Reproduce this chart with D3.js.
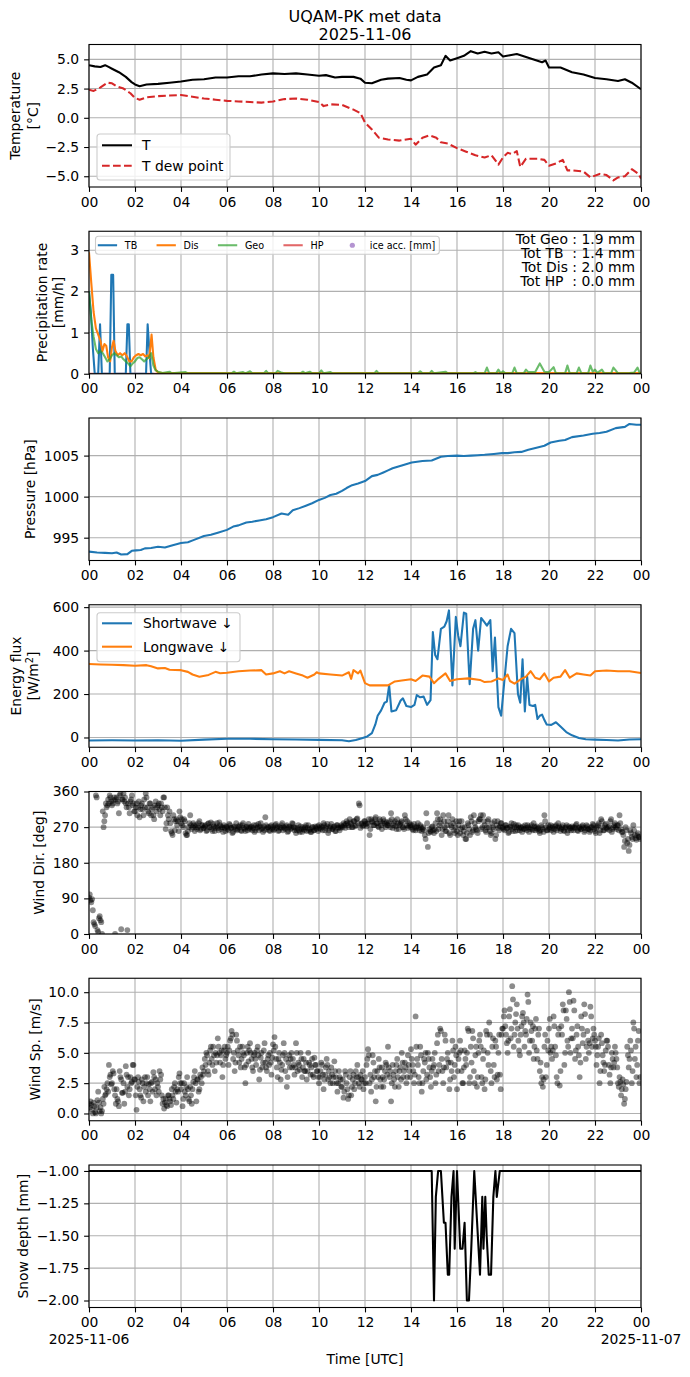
<!DOCTYPE html>
<html>
<head>
<meta charset="utf-8">
<script src="https://cdn.jsdelivr.net/npm/d3@7"></script>
<style>
  body { margin: 0; background: #fff; }
  svg { display: block; font-family: "DejaVu Sans", sans-serif; }
  .pre { white-space: pre; }
</style>
</head>
<body>
<svg id="chart" width="690" height="1377"></svg>
<script>
// ---- data (hours since 2025-11-06 00 UTC) ----
const hourTicks = [0, 2, 4, 6, 8, 10, 12, 14, 16, 18, 20, 22, 24];
const hourLabels = ['00', '02', '04', '06', '08', '10', '12', '14', '16', '18', '20', '22', '00'];

const tempT = [[0,4.5],[0.25,4.4],[0.5,4.35],[0.7,4.5],[0.85,4.35],[1.0,4.2],[1.3,3.9],[1.6,3.5],[1.85,3.05],[2.0,2.85],[2.2,2.7],[2.5,2.85],[3.0,2.9],[3.5,3.0],[4.0,3.1],[4.5,3.25],[5.0,3.3],[5.5,3.45],[6.0,3.45],[6.5,3.55],[7.0,3.55],[7.5,3.7],[8.0,3.8],[8.5,3.75],[9.0,3.8],[9.5,3.7],[10.0,3.6],[10.3,3.65],[10.7,3.45],[11.0,3.5],[11.5,3.5],[11.8,3.35],[12.0,3.0],[12.3,2.95],[12.7,3.25],[13.0,3.35],[13.5,3.4],[13.8,3.25],[14.0,3.2],[14.3,3.5],[14.7,3.7],[15.0,4.3],[15.3,4.5],[15.5,5.3],[15.7,4.9],[16.0,5.1],[16.3,5.3],[16.6,5.7],[16.9,5.5],[17.2,5.65],[17.5,5.5],[17.8,5.6],[18.0,5.25],[18.3,5.35],[18.6,5.45],[19.0,5.2],[19.4,4.95],[19.7,4.75],[19.85,4.9],[20.0,4.3],[20.5,4.3],[21.0,3.9],[21.5,3.7],[22.0,3.4],[22.5,3.3],[23.0,3.15],[23.3,3.3],[23.6,3.0],[24.0,2.45]];
const tempDew = [[0,2.4],[0.2,2.3],[0.5,2.6],[0.8,3.0],[1.0,2.95],[1.2,2.7],[1.5,2.5],[1.8,2.1],[2.0,1.7],[2.2,1.55],[2.5,1.75],[3.0,1.85],[3.5,1.9],[4.0,1.95],[4.5,1.8],[5.0,1.65],[5.5,1.55],[6.0,1.45],[6.5,1.4],[7.0,1.35],[7.5,1.3],[8.0,1.4],[8.5,1.6],[9.0,1.65],[9.5,1.55],[10.0,1.35],[10.2,1.0],[10.5,1.15],[11.0,1.1],[11.5,0.7],[11.8,0.4],[12.0,-0.4],[12.3,-1.0],[12.6,-1.7],[13.0,-1.85],[13.5,-1.95],[14.0,-1.8],[14.2,-2.3],[14.5,-1.7],[14.8,-1.5],[15.1,-1.7],[15.3,-2.1],[15.6,-2.2],[16.0,-2.6],[16.4,-2.9],[16.8,-3.2],[17.2,-3.4],[17.5,-3.2],[17.8,-4.0],[18.0,-3.4],[18.2,-3.0],[18.4,-3.1],[18.6,-2.85],[18.75,-4.2],[19.0,-3.5],[19.5,-3.5],[19.8,-3.6],[20.0,-4.1],[20.3,-3.9],[20.6,-3.6],[20.8,-4.5],[21.0,-4.5],[21.5,-4.6],[21.8,-5.1],[22.2,-4.8],[22.5,-4.9],[22.8,-5.35],[23.0,-5.1],[23.3,-5.0],[23.6,-4.4],[23.9,-4.8],[24,-5.2]];

const precipTB = [[0,2.0],[0.08,1.5],[0.17,0.6],[0.25,0],[0.4,0],[0.48,1.2],[0.56,0],[0.9,0],[0.97,2.4],[1.05,2.4],[1.12,0],[1.6,0],[1.67,1.2],[1.73,1.2],[1.8,0],[2.48,0],[2.55,1.2],[2.62,0.6],[2.7,0],[2.8,0]];
const precipDis = [[0,2.95],[0.1,2.2],[0.2,1.5],[0.3,1.1],[0.4,0.95],[0.5,0.8],[0.58,0.55],[0.67,0.72],[0.75,0.68],[0.83,0.4],[0.92,0.3],[1.0,0.65],[1.07,0.8],[1.15,0.55],[1.25,0.45],[1.35,0.5],[1.45,0.45],[1.55,0.5],[1.65,0.42],[1.75,0.3],[1.85,0.3],[1.95,0.4],[2.05,0.45],[2.15,0.48],[2.25,0.45],[2.35,0.48],[2.45,0.42],[2.55,0.45],[2.62,0.38],[2.72,0.95],[2.8,0.4],[2.9,0.1],[3.0,0.03],[3.2,0.02],[24,0.02]];
const precipGeo = [[0,2.0],[0.1,1.3],[0.2,0.9],[0.3,0.6],[0.4,0.5],[0.5,0.55],[0.6,0.5],[0.7,0.4],[0.8,0.3],[0.9,0.35],[1.0,0.45],[1.1,0.5],[1.2,0.45],[1.3,0.4],[1.4,0.42],[1.5,0.35],[1.6,0.3],[1.7,0.25],[1.8,0.18],[1.9,0.25],[2.0,0.3],[2.1,0.38],[2.2,0.4],[2.3,0.35],[2.4,0.3],[2.5,0.35],[2.6,0.4],[2.7,0.5],[2.8,0.2],[2.9,0.08],[3.0,0.05],[3.2,0.02],[3.5,0.05],[3.6,0.01],[4.2,0.04],[4.3,0.01],[6.2,0.01],[6.3,0.05],[6.4,0.01],[6.7,0.04],[6.8,0.01],[7.0,0.06],[7.1,0.01],[7.6,0.01],[7.7,0.07],[7.8,0.01],[8.1,0.01],[8.2,0.07],[8.35,0.03],[8.5,0.01],[9.2,0.01],[9.3,0.05],[9.4,0.01],[9.6,0.05],[9.7,0.01],[10.0,0.01],[10.1,0.08],[10.2,0.01],[10.5,0.04],[10.6,0.01],[12.4,0.01],[12.5,0.07],[12.6,0.01],[14.3,0.01],[14.4,0.06],[14.5,0.01],[14.8,0.01],[14.9,0.07],[15.0,0.01],[15.5,0.05],[15.6,0.01],[16.7,0.01],[16.8,0.04],[16.9,0.01],[17.2,0.01],[17.3,0.15],[17.4,0.01],[17.7,0.01],[17.8,0.1],[17.9,0.01],[18.0,0.06],[18.1,0.01],[18.4,0.01],[18.5,0.15],[18.6,0.01],[18.9,0.01],[19.0,0.1],[19.1,0.04],[19.4,0.04],[19.6,0.25],[19.8,0.05],[20.0,0.04],[20.2,0.16],[20.3,0.01],[20.7,0.01],[20.8,0.2],[20.9,0.01],[21.2,0.01],[21.3,0.15],[21.4,0.02],[21.7,0.01],[21.8,0.2],[21.9,0.05],[22.0,0.1],[22.1,0.02],[22.3,0.1],[22.4,0.01],[22.7,0.01],[22.8,0.15],[22.9,0.08],[23.0,0.01],[23.5,0.02],[23.7,0.03],[23.85,0.15],[23.95,0.01],[24,0.02]];
const precipHP = [[0,0],[24,0]];
const precipNames = ['TB', 'Dis', 'Geo', 'HP', 'ice acc. [mm]'];
const precipTotals = ['Tot Geo : 1.9 mm', 'Tot TB  : 1.4 mm', 'Tot Dis : 2.0 mm', 'Tot HP  : 0.0 mm'];

const pressure = [[0,993.3],[0.35,993.2],[0.7,993.15],[1.0,993.1],[1.2,993.2],[1.4,992.95],[1.67,993.0],[1.86,993.4],[2.05,993.45],[2.25,993.5],[2.43,993.7],[2.7,993.75],[3.0,993.9],[3.3,993.8],[3.6,994.05],[4.0,994.35],[4.3,994.45],[4.54,994.7],[5.0,995.2],[5.3,995.35],[5.6,995.6],[6.0,995.95],[6.27,996.35],[6.5,996.5],[6.84,996.85],[7.1,996.95],[7.4,997.1],[7.7,997.25],[8.0,997.5],[8.37,997.95],[8.66,997.8],[8.86,998.35],[9.15,998.6],[9.43,998.9],[9.7,999.2],[10.0,999.6],[10.25,999.85],[10.5,1000.2],[10.75,1000.35],[11.0,1000.7],[11.2,1001.05],[11.44,1001.4],[11.7,1001.6],[12.0,1001.9],[12.3,1002.5],[12.55,1002.65],[12.8,1002.95],[13.0,1003.2],[13.2,1003.45],[13.6,1003.8],[14.03,1004.15],[14.5,1004.35],[14.9,1004.4],[15.3,1004.85],[15.6,1004.95],[16.0,1005.0],[16.3,1004.95],[16.6,1005.0],[16.9,1005.05],[17.2,1005.1],[17.6,1005.2],[17.96,1005.3],[18.2,1005.3],[18.5,1005.4],[18.8,1005.45],[19.1,1005.7],[19.5,1006.0],[19.8,1006.2],[20.07,1006.6],[20.45,1006.8],[20.7,1006.9],[21.0,1007.25],[21.5,1007.45],[21.9,1007.65],[22.2,1007.75],[22.5,1007.9],[22.9,1008.35],[23.3,1008.5],[23.5,1008.85],[23.8,1008.75],[24,1008.75]];

const shortwave = [[0,-14],[1,-13],[2,-14],[3,-13],[4,-15],[5,-10],[6,-6],[7,-6],[8,-8],[9,-9],[10,-11],[11,-13],[11.3,-17],[11.6,-12],[11.9,-2],[12.1,5],[12.3,20],[12.45,60],[12.55,100],[12.7,125],[12.85,160],[12.95,165],[13.05,240],[13.15,120],[13.35,125],[13.55,170],[13.65,180],[13.8,145],[14.0,140],[14.15,150],[14.25,195],[14.4,185],[14.55,188],[14.7,150],[14.85,172],[14.95,485],[15.05,380],[15.15,360],[15.3,500],[15.45,510],[15.55,535],[15.65,585],[15.8,240],[15.95,555],[16.05,470],[16.15,420],[16.3,575],[16.4,570],[16.55,245],[16.7,500],[16.8,540],[16.92,400],[17.05,550],[17.2,530],[17.3,515],[17.45,540],[17.55,305],[17.65,460],[17.8,140],[17.92,100],[18.05,250],[18.2,420],[18.35,500],[18.5,480],[18.65,200],[18.75,160],[18.85,360],[18.95,120],[19.05,280],[19.15,150],[19.3,145],[19.4,150],[19.5,85],[19.6,100],[19.7,105],[19.8,80],[19.9,60],[20.1,58],[20.3,70],[20.5,50],[20.75,25],[21.0,10],[21.3,-2],[21.6,-8],[22.0,-10],[22.5,-12],[23.0,-14],[23.5,-9],[24,-8]];
const longwave = [[0,338],[0.5,336],[1,335],[1.5,333],[2,330],[2.5,333],[2.7,328],[3,318],[3.3,320],[3.5,312],[4,310],[4.3,302],[4.5,290],[4.8,280],[5.2,288],[5.5,302],[5.7,296],[6,298],[6.5,305],[7,308],[7.5,310],[7.7,290],[8,295],[8.3,305],[8.5,295],[8.7,305],[9,295],[9.3,285],[9.5,275],[9.8,290],[9.9,300],[10,295],[10.5,290],[11,285],[11.3,300],[11.4,270],[11.5,310],[11.7,295],[11.8,308],[12.0,250],[12.2,240],[12.6,240],[13,240],[13.3,258],[13.6,262],[14,268],[14.2,260],[14.5,285],[14.8,280],[15.0,250],[15.2,270],[15.5,295],[15.7,260],[16,268],[16.5,272],[17,265],[17.2,255],[17.5,258],[17.8,272],[18,265],[18.2,290],[18.3,260],[18.5,248],[18.8,270],[19.0,280],[19.2,305],[19.4,275],[19.6,268],[19.8,295],[20.0,258],[20.2,275],[20.5,280],[20.7,310],[20.9,275],[21.2,295],[21.5,290],[21.8,285],[22.0,305],[22.5,308],[23,305],[23.5,305],[24,297]];
const fluxNames = ['Shortwave \u2193', 'Longwave \u2193'];

// wind samples every 2 minutes, one row per hour
const windDir = [
  [92,100,85,80,88,60,30,25,20,350,345,10,5,40,45,35,30,0,310,270,285,300,330,320,325,340,330,350,345,335],
  [325,330,338,345,0,340,345,330,335,305,350,355,12,340,340,355,335,345,330,320,10,330,320,305,335,340,350,325,330,310],
  [310,320,330,300,320,335,295,315,325,330,315,300,340,320,355,345,320,310,305,330,330,300,315,320,300,290,325,335,310,320],
  [325,330,315,300,330,320,310,345,345,320,265,280,320,300,290,310,280,260,255,250,300,290,262,285,290,275,285,260,310,295],
  [280,290,275,270,290,285,255,250,250,260,270,280,300,275,265,270,280,275,260,270,275,265,270,280,285,262,265,275,275,268],
  [268,272,275,260,262,278,280,270,270,282,265,260,278,272,260,268,272,280,268,262,282,275,265,270,270,258,275,268,260,272],
  [270,265,262,278,275,268,268,255,258,270,272,265,280,262,265,272,270,275,262,260,275,280,268,265,260,270,272,262,278,268],
  [265,270,272,262,268,275,258,262,275,268,270,278,262,272,280,265,268,258,272,262,295,275,265,270,270,262,260,272,275,265],
  [270,262,265,275,278,268,272,260,262,270,268,275,280,262,270,268,265,272,275,258,260,270,272,265,268,280,278,270,262,268],
  [255,262,268,275,262,258,272,265,258,270,265,262,270,275,260,268,275,262,265,258,258,270,270,262,262,272,268,265,272,260],
  [275,268,265,272,270,262,280,275,262,268,272,278,255,262,268,272,278,265,265,270,272,260,260,275,275,268,270,262,268,275],
  [272,270,280,275,268,278,285,280,275,270,290,282,278,270,270,285,285,272,275,290,292,280,330,325,268,278,280,272,275,285],
  [285,278,272,280,278,290,250,265,290,285,282,275,275,290,295,280,280,272,270,290,285,275,265,280,290,285,278,270,282,275],
  [275,280,285,270,305,290,268,275,280,285,272,265,290,280,265,275,278,282,285,270,270,265,300,290,275,285,268,272,280,275],
  [270,275,265,262,278,270,262,268,272,280,268,262,275,270,260,265,270,262,250,240,305,280,220,255,265,260,258,270,272,262],
  [255,265,280,260,305,290,265,275,290,280,250,265,300,285,270,260,260,275,285,300,255,250,275,270,290,280,262,255,270,285],
  [260,250,275,285,255,265,285,270,250,260,270,240,240,255,280,275,265,250,295,285,258,262,300,280,270,265,262,255,285,290],
  [290,300,265,270,300,285,275,262,258,270,285,290,270,260,250,255,280,270,265,285,240,250,275,285,268,262,272,280,280,268],
  [270,265,262,275,275,268,268,255,258,270,272,280,265,260,278,270,260,275,270,262,275,268,262,270,268,258,272,265,265,275],
  [268,262,275,270,258,265,270,275,265,262,280,272,262,268,272,265,268,260,255,262,275,270,265,258,300,285,270,262,262,275],
  [265,270,275,262,268,272,258,265,272,275,262,268,280,272,268,260,265,270,275,262,260,268,270,275,255,262,272,268,268,262],
  [272,268,262,270,268,275,278,262,260,268,270,265,265,272,275,268,258,262,268,275,272,265,265,258,262,270,270,278,275,265],
  [260,255,268,272,275,280,255,262,290,285,270,262,262,275,278,268,265,270,272,262,285,290,258,265,270,275,280,270,265,275],
  [275,262,300,280,265,258,258,250,220,235,270,262,230,240,210,225,262,255,245,240,275,262,250,242,238,250,255,245,245,240]
];
const windSpeed = [
  [0.8,0.5,1.0,0.7,0.3,0.0,0.9,0.6,0.1,0.0,0.5,1.1,1.8,0.9,0.2,0.5,0.0,0.2,1.2,0.8,2.2,1.5,1.6,2.0,2.5,1.8,4.0,3.0,3.2,2.4],
  [2.5,3.5,3.3,2.0,1.5,0.8,2.0,1.2,1.0,0.6,3.5,3.0,2.8,1.7,1.7,2.5,0.8,1.8,3.9,3.2,2.2,3.0,1.5,2.0,3.0,2.5,2.6,4.0,4.0,2.8],
  [2.8,1.5,0.3,2.2,3.0,2.6,2.0,1.5,1.3,2.8,2.5,1.0,2.2,3.0,1.8,2.5,3.0,1.5,2.4,2.0,1.0,2.5,2.6,1.8,3.4,3.0,2.0,2.8,1.5,2.5],
  [2.2,1.8,3.5,2.8,3.2,1.5,0.8,1.2,0.4,0.9,1.2,0.7,0.6,1.5,1.5,1.2,1.0,0.7,2.0,1.5,1.2,2.2,2.5,1.8,0.9,2.0,1.8,3.0,3.3,2.5],
  [2.0,2.5,0.6,1.2,2.5,1.8,1.5,2.2,3.0,2.0,1.2,1.0,2.2,1.5,0.8,2.0,2.6,3.0,3.5,2.5,1.0,2.8,2.8,1.8,2.0,3.2,3.0,2.5,3.8,3.2],
  [3.5,4.5,4.0,5.0,4.8,3.5,3.2,4.2,5.2,5.5,4.5,4.0,5.5,4.8,3.5,5.0,4.2,4.8,6.2,5.5,5.0,4.2,4.8,5.2,3.0,4.0,5.2,5.5,4.5,4.8],
  [5.0,5.5,4.0,5.2,6.0,6.2,6.8,6.5,4.5,5.0,3.5,4.2,6.5,6.0,5.2,4.8,4.2,5.5,3.8,4.5,5.5,5.0,4.8,3.8,2.5,4.0,5.0,5.5,4.3,5.2],
  [5.8,5.0,4.5,3.8,3.5,4.8,5.0,4.5,4.0,5.2,5.5,4.8,2.8,3.6,4.6,5.0,3.8,4.2,5.2,5.8,4.2,3.8,3.5,4.5,4.8,4.0,5.0,4.2,3.2,4.6],
  [5.7,5.2,6.3,5.5,4.5,3.8,3.0,4.5,5.0,4.2,2.8,3.6,4.0,4.8,5.8,5.0,3.5,4.5,2.2,3.0,4.2,4.8,3.8,4.5,5.0,3.8,4.5,4.0,3.2,3.8],
  [5.8,5.0,3.5,4.2,4.0,3.6,5.0,4.5,3.0,3.8,4.5,3.5,3.5,4.2,2.8,3.5,5.0,4.2,4.0,3.2,3.8,4.5,3.2,3.0,4.6,4.0,4.0,3.5,3.5,3.0],
  [2.5,3.0,3.5,4.2,4.0,3.2,2.0,2.8,3.2,3.8,4.5,4.0,2.8,3.5,3.0,2.5,3.8,3.2,2.5,3.0,4.3,3.5,3.0,2.5,1.8,2.5,3.5,3.0,2.8,2.2],
  [2.2,2.8,1.3,1.8,3.5,3.2,2.5,2.0,1.2,1.5,3.0,3.5,1.5,2.2,2.8,3.2,2.0,2.5,3.5,3.0,4.0,3.0,2.5,2.2,3.2,2.8,2.8,3.5,2.0,2.5],
  [3.0,2.5,4.0,4.5,5.3,4.8,2.5,3.2,1.8,2.8,4.8,4.2,3.0,3.5,1.0,2.2,3.5,3.0,4.5,3.8,2.8,2.2,3.8,3.0,2.2,2.8,3.5,4.2,4.0,3.2],
  [5.5,3.8,3.0,3.5,1.0,2.5,4.0,3.2,2.8,2.2,3.5,4.0,4.5,3.0,2.2,3.5,3.8,2.8,5.0,4.2,3.0,3.5,4.2,3.8,2.5,3.0,4.8,4.0,3.5,3.0],
  [5.3,4.5,4.0,3.5,2.5,3.2,8.0,5.5,4.5,4.0,3.0,2.5,5.5,4.8,1.8,2.5,3.5,4.5,4.2,5.0,2.8,3.2,5.0,4.5,3.8,3.0,2.2,3.5,4.5,3.8],
  [4.0,5.0,2.5,3.2,5.8,6.5,3.5,4.0,7.0,6.8,4.5,3.5,2.5,3.8,6.5,6.0,3.8,4.5,5.0,4.2,2.0,2.8,4.2,3.5,6.0,5.2,3.0,4.0,5.5,4.8],
  [2.0,3.5,4.5,5.0,6.0,5.2,3.5,2.5,2.5,3.8,5.2,4.5,4.0,5.0,7.0,6.8,2.5,3.0,5.5,4.2,6.8,6.2,3.5,2.5,4.8,5.5,2.2,3.0,5.0,6.0],
  [6.5,5.5,3.0,2.5,4.5,5.2,2.0,2.8,6.8,6.5,5.0,4.0,7.5,6.5,3.5,2.5,5.5,6.2,4.0,3.0,6.0,5.5,2.8,3.2,5.0,6.5,3.2,2.0,6.5,7.0],
  [7.0,8.0,8.5,7.2,6.5,5.8,5.0,6.0,8.0,8.6,6.2,7.0,10.5,9.4,5.5,6.5,7.5,8.2,9.0,7.0,6.0,5.2,4.8,6.5,7.2,8.0,8.3,7.5,5.5,6.8],
  [6.5,7.8,9.8,9.2,5.0,6.0,7.5,6.8,6.0,7.2,4.5,5.5,7.0,7.8,5.2,4.5,6.5,7.0,3.5,4.2,2.5,3.0,2.2,2.8,5.5,6.5,3.0,4.0,6.0,5.2],
  [7.0,7.8,5.0,5.5,4.5,5.2,8.0,7.2,5.5,4.8,3.0,2.5,6.5,7.0,2.3,3.5,7.2,6.5,9.0,8.5,4.0,5.0,8.5,7.8,6.0,5.5,10.0,9.2,5.0,6.2],
  [7.0,6.2,9.3,8.5,4.5,5.2,6.5,7.2,5.5,4.8,3.0,4.2,8.0,7.0,5.8,6.5,9.0,8.2,4.5,5.5,6.8,6.0,5.0,5.8,8.8,8.0,5.5,6.2,7.0,6.5],
  [6.0,5.5,4.0,4.8,5.5,6.2,2.5,3.5,6.5,5.8,4.8,4.2,3.5,4.0,5.2,6.0,6.0,5.5,4.0,3.2,2.5,3.8,5.0,4.5,3.8,4.2,5.5,5.0,4.5,3.8],
  [2.5,2.2,3.0,2.6,1.5,2.0,2.8,2.4,0.8,1.2,2.0,2.6,5.5,4.8,3.8,4.5,6.0,5.2,2.5,3.5,7.5,7.0,4.5,5.5,3.0,4.0,6.0,6.8,2.5,3.0]
];

const snowDepth = [[0,-1],[14.9,-1],[15.0,-2.0],[15.08,-1.2],[15.18,-1.0],[15.3,-1.0],[15.43,-1.4],[15.5,-1.4],[15.6,-1.8],[15.66,-1.8],[15.76,-1.2],[15.85,-1.0],[15.9,-1.6],[16.0,-1.0],[16.14,-1.6],[16.24,-1.6],[16.33,-1.4],[16.43,-2.0],[16.52,-2.0],[16.62,-1.6],[16.75,-1.0],[17.0,-1.8],[17.1,-1.2],[17.15,-1.6],[17.23,-1.2],[17.29,-1.5],[17.38,-1.8],[17.48,-1.8],[17.58,-1.2],[17.67,-1.0],[17.73,-1.2],[17.86,-1.0],[24,-1]];

// ---- layout ----
const left = 89;
const right = 641;
const top0 = 44.5;
const step = 186.75;
const ph = 142.5;
const fs = 13.9;
const lw = 2.08;

const svg = d3.select('#chart');
const defs = svg.append('defs');
const x = d3.scaleLinear().domain([0, 24]).range([left, right]);

function panel(i, domain, ticks, fmt, labels, labelX) {
  const y0 = top0 + i * step;
  const y = d3.scaleLinear().domain(domain).range([y0 + ph, y0]);
  const g = svg.append('g');

  defs.append('clipPath').attr('id', `clip${i}`)
    .append('rect').attr('x', left).attr('y', y0).attr('width', right - left).attr('height', ph);

  // grid
  const grid = g.append('g').attr('stroke', '#b0b0b0').attr('stroke-width', 1.1);
  grid.selectAll('.gx').data(hourTicks).join('line').attr('class', 'gx')
    .attr('x1', (d) => x(d)).attr('x2', (d) => x(d)).attr('y1', y0).attr('y2', y0 + ph);
  grid.selectAll('.gy').data(ticks).join('line').attr('class', 'gy')
    .attr('x1', left).attr('x2', right).attr('y1', (d) => y(d)).attr('y2', (d) => y(d));

  const plot = g.append('g').attr('clip-path', `url(#clip${i})`);

  // axes
  const xa = g.append('g').attr('transform', `translate(0,${y0 + ph})`)
    .call(d3.axisBottom(x).tickValues(hourTicks).tickFormat((d, k) => hourLabels[k])
      .tickSize(4.9).tickPadding(4.9).tickSizeOuter(0));
  const ya = g.append('g').attr('transform', `translate(${left},0)`)
    .call(d3.axisLeft(y).tickValues(ticks).tickFormat(fmt)
      .tickSize(4.9).tickPadding(4.9).tickSizeOuter(0));
  [xa, ya].forEach((a) => {
    a.select('.domain').remove();
    a.attr('font-family', null).attr('font-size', null);
    a.selectAll('line').attr('stroke', '#000').attr('stroke-width', 1.1);
    a.selectAll('text').attr('font-size', fs).attr('fill', '#000');
  });

  g.append('rect').attr('x', left).attr('y', y0).attr('width', right - left).attr('height', ph)
    .attr('fill', 'none').attr('stroke', '#000').attr('stroke-width', 1.1);

  // y label (one or two lines)
  const cy = y0 + ph / 2;
  labels.forEach((lab, k) => {
    const t = g.append('text')
      .attr('transform', `translate(${labelX[k]},${cy}) rotate(-90)`)
      .attr('text-anchor', 'middle').attr('dy', '0.35em').attr('font-size', fs);
    if (Array.isArray(lab)) {
      t.append('tspan').text(lab[0]);
      t.append('tspan').attr('baseline-shift', 'super').attr('font-size', fs * 0.7).text(lab[1]);
      t.append('tspan').text(lab[2]);
    } else {
      t.text(lab);
    }
  });

  return { y, plot, g, y0 };
}

function drawLine(p, data, color, opts = {}) {
  const line = d3.line().x((d) => x(d[0])).y((d) => p.y(d[1]));
  p.plot.append('path').datum(data)
    .attr('d', line)
    .attr('fill', 'none')
    .attr('stroke', color)
    .attr('stroke-width', opts.width || lw)
    .attr('stroke-opacity', opts.opacity || 1)
    .attr('stroke-dasharray', opts.dash || null)
    .attr('stroke-linejoin', 'round');
}

function drawScatter(p, rows) {
  const pts = [];
  rows.forEach((row, h) => row.forEach((v, k) => pts.push([h + k / row.length, v])));
  p.plot.append('g').selectAll('circle').data(pts).join('circle')
    .attr('cx', (d) => x(d[0])).attr('cy', (d) => p.y(d[1])).attr('r', 2.9)
    .attr('fill', '#000').attr('fill-opacity', 0.45);
}

function legendBox(g, bx, by, bw, bh) {
  g.append('rect').attr('x', bx).attr('y', by).attr('width', bw).attr('height', bh)
    .attr('rx', 3).attr('fill', '#fff').attr('fill-opacity', 0.8)
    .attr('stroke', '#ccc').attr('stroke-width', 1.1);
}

const fmt1 = d3.format('.1f');
const fmt2 = d3.format('.2f');
const fmt0 = d3.format('d');

/* ---- title ---- */
svg.append('text').attr('x', (left + right) / 2).attr('y', 21.8)
  .attr('text-anchor', 'middle').attr('font-size', 16).text('UQAM-PK met data');
svg.append('text').attr('x', (left + right) / 2).attr('y', 39.6)
  .attr('text-anchor', 'middle').attr('font-size', 16).text('2025-11-06');

/* ---- temperature ---- */
const pT = panel(0, [-5.92, 6.27], [-5, -2.5, 0, 2.5, 5], fmt1, ['Temperature', '[\u00b0C]'], [15.6, 33]);
drawLine(pT, tempT, '#000');
drawLine(pT, tempDew, '#d62728', { dash: '7.7,3.3' });
legendBox(pT.g, 97, 134, 133, 46);
[['T', '#000', null], ['T dew point', '#d62728', '7.7,3.3']].forEach(([name, c, dash], k) => {
  const ly = [145.3, 165.7][k];
  pT.g.append('line').attr('x1', 102).attr('x2', 132).attr('y1', ly).attr('y2', ly)
    .attr('stroke', c).attr('stroke-width', lw).attr('stroke-dasharray', dash);
  pT.g.append('text').attr('x', 142).attr('y', ly).attr('dy', '0.35em').attr('font-size', fs).text(name);
});

/* ---- precipitation ---- */
const pP = panel(1, [0, 3.46], [0, 1, 2, 3], fmt0, ['Precipitation rate', '[mm/h]'], [42, 58]);
const precipColors = ['#1f77b4', '#ff7f0e', '#2ca02c', '#d62728', '#9467bd'];
const precipAlpha = [1, 1, 0.7, 0.7, 0.7];
drawLine(pP, precipHP, precipColors[3], { opacity: 0.7 });
drawLine(pP, precipTB, precipColors[0]);
drawLine(pP, precipDis, precipColors[1]);
drawLine(pP, precipGeo, precipColors[2], { opacity: 0.7 });

const lfs = 9.6;
const leg = pP.g.append('g');
const legBg = leg.append('rect');
let cx = 97.8;
const legY = pP.y0 + 14;
precipNames.forEach((name, k) => {
  if (k < 4) {
    leg.append('line').attr('x1', cx).attr('x2', cx + 19.3).attr('y1', legY).attr('y2', legY)
      .attr('stroke', precipColors[k]).attr('stroke-opacity', precipAlpha[k]).attr('stroke-width', lw);
  } else {
    leg.append('circle').attr('cx', cx + 9.6).attr('cy', legY).attr('r', 2.6)
      .attr('fill', precipColors[k]).attr('fill-opacity', precipAlpha[k]);
  }
  const t = leg.append('text').attr('x', cx + 19.3 + 7.7).attr('y', legY).attr('dy', '0.35em')
    .attr('font-size', lfs).text(name);
  cx += 19.3 + 7.7 + t.node().getComputedTextLength() + 19.3;
});
legBg.attr('x', 95.5).attr('y', legY - 9).attr('width', cx - 19.3 + 4 - 95.5).attr('height', 18)
  .attr('rx', 3).attr('fill', '#fff').attr('fill-opacity', 0.8).attr('stroke', '#ccc').attr('stroke-width', 1.1);

precipTotals.forEach((s, k) => {
  pP.g.append('text').attr('class', 'pre').attr('x', 635).attr('y', pP.y0 + 8 + k * 14.1)
    .attr('dy', '0.35em').attr('text-anchor', 'end').attr('font-size', fs).text(s);
});

/* ---- pressure ---- */
const pPr = panel(2, [992.22, 1009.58], [995, 1000, 1005], fmt0, ['Pressure [hPa]'], [30]);
drawLine(pPr, pressure, '#1f77b4');

/* ---- energy flux ---- */
const pE = panel(3, [-45, 611], [0, 200, 400, 600], fmt0, ['Energy flux', ['[W/m', '2', ']']], [16, 33]);
drawLine(pE, shortwave, '#1f77b4');
drawLine(pE, longwave, '#ff7f0e');
legendBox(pE.g, 97, 612.7, 143, 49);
fluxNames.forEach((name, k) => {
  const ly = [623.3, 646.7][k];
  pE.g.append('line').attr('x1', 102).attr('x2', 132).attr('y1', ly).attr('y2', ly)
    .attr('stroke', ['#1f77b4', '#ff7f0e'][k]).attr('stroke-width', lw);
  pE.g.append('text').attr('class', 'pre').attr('x', 143).attr('y', ly).attr('dy', '0.35em')
    .attr('font-size', fs).text(name);
});

/* ---- wind ---- */
const pD = panel(4, [0, 360], [0, 90, 180, 270, 360], fmt0, ['Wind Dir. [deg]'], [39]);
drawScatter(pD, windDir);
const pS = panel(5, [-0.6, 11.15], [0, 2.5, 5, 7.5, 10], fmt1, ['Wind Sp. [m/s]'], [35.6]);
drawScatter(pS, windSpeed);

/* ---- snow depth ---- */
const pN = panel(6, [-2.054, -0.954], [-2, -1.75, -1.5, -1.25, -1], fmt2, ['Snow depth [mm]'], [23]);
drawLine(pN, snowDepth, '#000');

const bottomY = pN.y0 + ph;
svg.append('text').attr('x', x(0)).attr('y', bottomY + 32).attr('dy', '0.35em')
  .attr('text-anchor', 'middle').attr('font-size', fs).text('2025-11-06');
svg.append('text').attr('x', x(24)).attr('y', bottomY + 32).attr('dy', '0.35em')
  .attr('text-anchor', 'middle').attr('font-size', fs).text('2025-11-07');
svg.append('text').attr('x', (left + right) / 2).attr('y', bottomY + 51.5).attr('dy', '0.35em')
  .attr('text-anchor', 'middle').attr('font-size', fs).text('Time [UTC]');
</script>
</body>
</html>
